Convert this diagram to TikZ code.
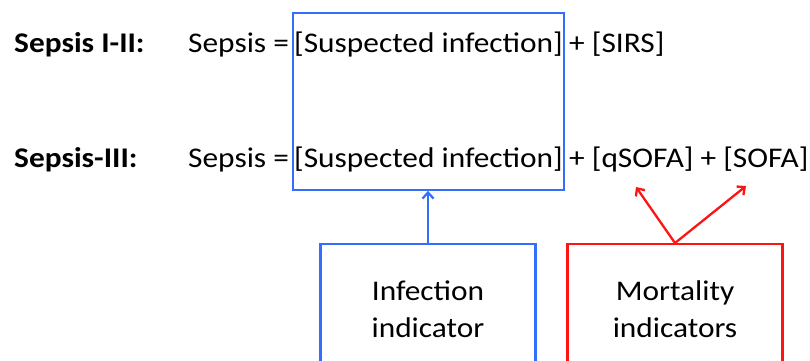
\documentclass[tikz,border=0pt]{standalone}
\usepackage{fontspec}
\setmainfont{Carlito}[FakeStretch=1.1]
\usetikzlibrary{positioning,fit,arrows.meta}
\definecolor{infblue}{RGB}{51,110,255}
\definecolor{morred}{RGB}{255,20,20}
\tikzset{
    eq-text/.style = {inner sep=0pt, anchor=base west, text height=22pt, text depth=6pt, font=\fontsize{28.5}{34}\selectfont},
    row-label/.style = {eq-text, font=\fontsize{28.5}{34}\selectfont\bfseries},
    ind-box/.style = {draw, line width=2.3pt, minimum width=215pt, minimum height=130pt, anchor=north, align=center, font=\fontsize{28.5}{37}\selectfont},
    ind-arrow/.style = {line width=2.3pt, -{Straight Barb[length=6pt,width=11pt]}},
}
\begin{document}
\begin{tikzpicture}[x=1pt, y=-1pt]
\useasboundingbox (0,0) rectangle (810,360);
% row one
\node [row-label] (lab1) at (14,52) {Sepsis I-II:};
\node [eq-text] (sep1) at (188,52) {Sepsis =};
\node [eq-text] (inf1) at (294,52) {[Suspected infection]};
\node [eq-text, right=6pt of inf1.base east, anchor=base west] (sirs) {+ [SIRS]};
% row two
\node [row-label] (lab2) at (14,167) {Sepsis-III:};
\node [eq-text] (sep2) at (188,167) {Sepsis =};
\node [eq-text] (inf2) at (294,167) {[Suspected infection]};
\node [eq-text, right=6pt of inf2.base east, anchor=base west] (qsofa) {+ [qSOFA] + [SOFA]};
% blue frame round both infection terms
\node [draw=infblue, line width=2.3pt, fit=(inf1)(inf2), inner xsep=1pt, inner ysep=16.5pt] (frame) {};
% indicator boxes
\node [ind-box, draw=infblue] (infbox) at (428,243) {Infection\\indicator};
\node [ind-box, draw=morred] (morbox) at (675,243) {Mortality\\indicators};
\coordinate (qtip) at (636,187);
\coordinate (stip) at (746,186);
\draw [ind-arrow, infblue] (infbox.north) -- (infbox.north |- frame.south);
\draw [ind-arrow, morred] (morbox.north) -- (qtip);
\draw [ind-arrow, morred] (morbox.north) -- (stip);
\end{tikzpicture}
\end{document}
